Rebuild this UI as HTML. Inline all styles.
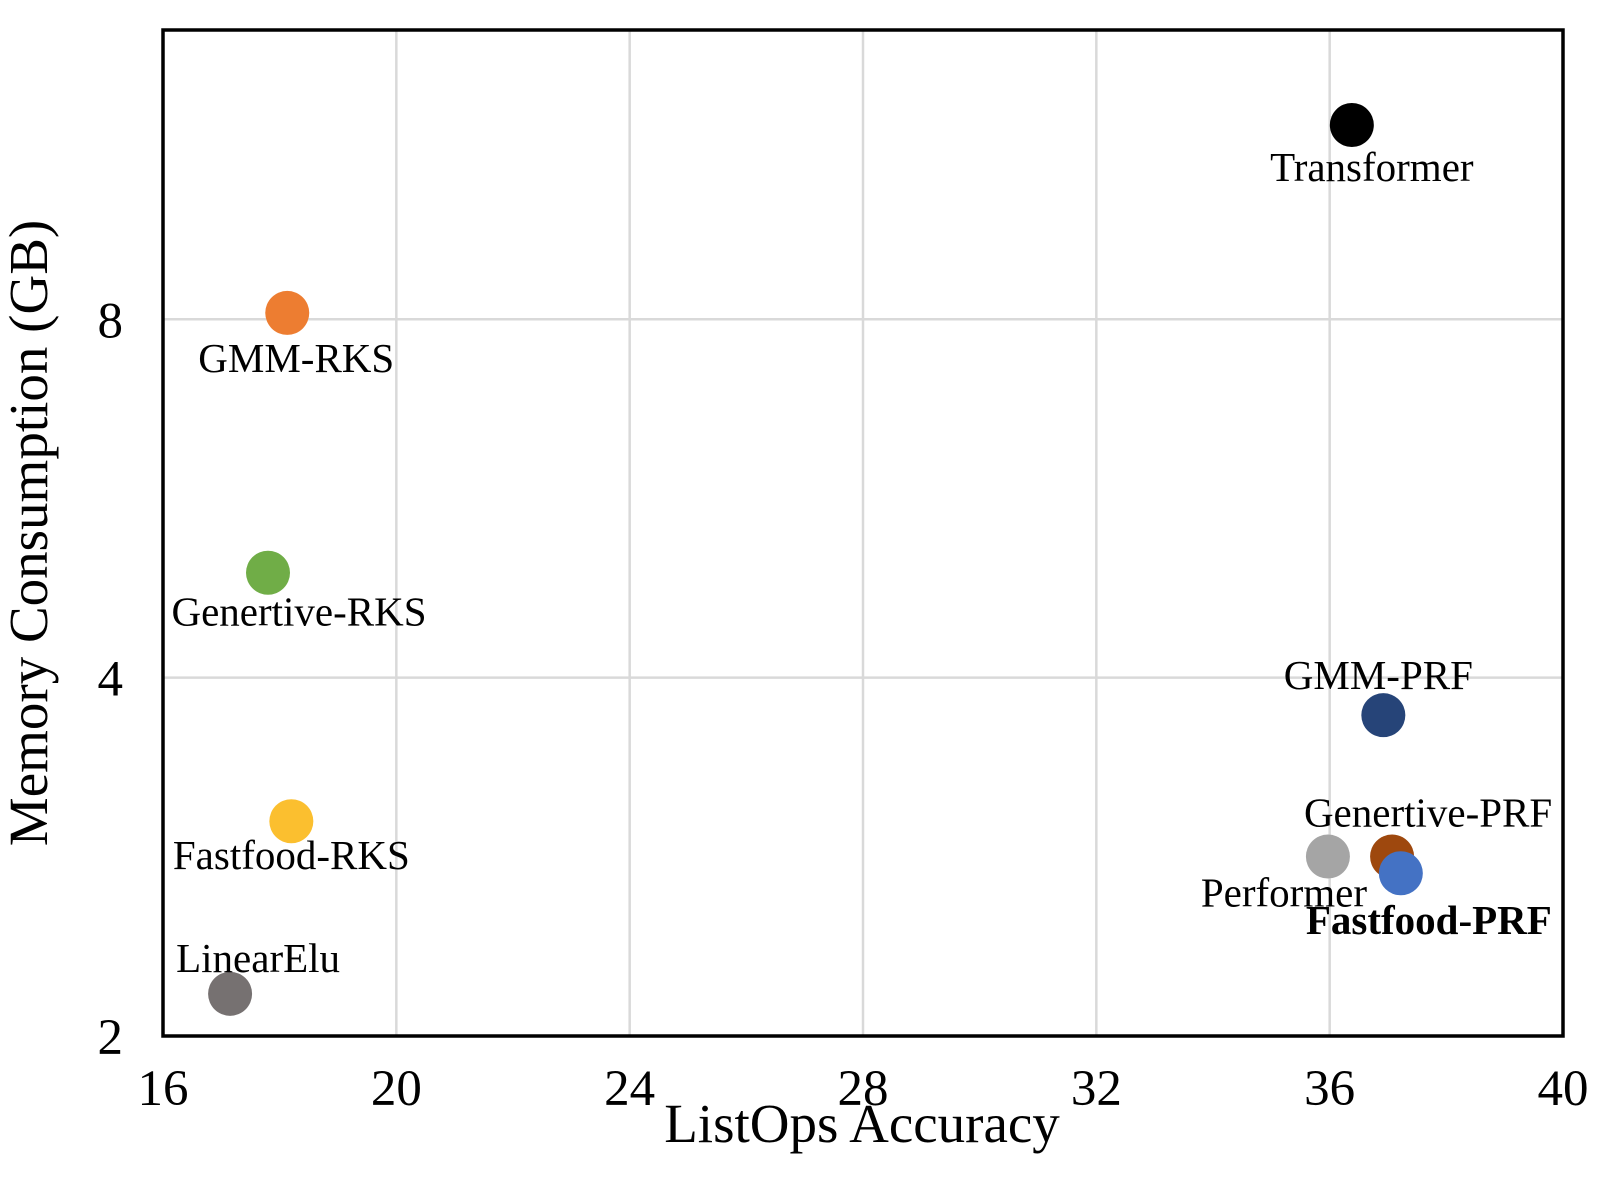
<!DOCTYPE html>
<html><head><meta charset="utf-8"><style>
body{margin:0;background:#fff}
svg text{font-family:"Liberation Serif",serif;fill:#000}
</style></head><body>
<svg id="chart" width="1617" height="1172" viewBox="0 0 1617 1172" xmlns="http://www.w3.org/2000/svg">
<rect width="1617" height="1172" fill="#fff"/>
<g id="grid"></g>
<g id="points"></g>
<rect x="163" y="30" width="1400" height="1006" fill="none" stroke="#000" stroke-width="3.5"/>
<g id="ticks"></g>
<text x="862" y="1142" font-size="55" text-anchor="middle">ListOps Accuracy</text>
<text transform="translate(47,533) rotate(-90)" font-size="55" text-anchor="middle">Memory Consumption (GB)</text>
</svg>
<script>
const models=["Transformer","GMM-RKS","Genertive-RKS","Fastfood-RKS","LinearElu","GMM-PRF","Performer","Genertive-PRF","Fastfood-PRF"];
const accuracy=[36.38,18.13,17.8,18.2,17.15,36.92,35.97,37.07,37.22];
const memory=[11.65,8.1,4.9,3.03,2.17,3.72,2.83,2.83,2.74];
const xTicks=[16,20,24,28,32,36,40];
const yTicks=[2,4,8];
const colors=["#000000","#ED7D31","#70AD47","#FBBF2F","#767171","#264478","#A5A5A5","#9E480E","#4472C4"];
const labelDx=[20,9,31,0,28,-5,-44,36,28];
const labelDy=[56,59,53,48,-22,-26,50,-30,61];
const bold=[0,0,0,0,0,0,0,0,1];
const L=163,R=1563,T=30,B=1036,X0=16,X1=40,Y0=2,Y1=14;
const xs=v=>L+(v-X0)/(X1-X0)*(R-L);
const ys=v=>B-Math.log(v/Y0)/Math.log(Y1/Y0)*(B-T);
const NS="http://www.w3.org/2000/svg";
const mk=(t,a,p)=>{const e=document.createElementNS(NS,t);for(const k in a)e.setAttribute(k,a[k]);p.appendChild(e);return e;};
const grid=document.getElementById('grid'),ticks=document.getElementById('ticks'),pts=document.getElementById('points');
xTicks.forEach(v=>{
 const g=mk('line',{x1:xs(v),x2:xs(v),y1:T,y2:B,stroke:'#d9d9d9','stroke-width':2.5},grid);
 
 
 const t=mk('text',{x:xs(v),y:1105,'font-size':51,'text-anchor':'middle'},ticks);
 t.textContent=v;
 
 
});
yTicks.forEach(v=>{
 const g=mk('line',{x1:L,x2:R,y1:ys(v),y2:ys(v),stroke:'#d9d9d9','stroke-width':2.5},grid);
 
 
 const t=mk('text',{x:123,y:ys(v)+18,'font-size':51,'text-anchor':'end'},ticks);
 t.textContent=v;
 
 
});
models.forEach((m,i)=>{
 const cx=xs(accuracy[i]),cy=ys(memory[i]);
 const c=mk('circle',{cx:cx,cy:cy,r:22,fill:colors[i]},pts);
 
 
 const t=mk('text',{x:cx+labelDx[i],y:cy+labelDy[i],'font-size':41,'text-anchor':'middle','font-weight':bold[i]?'bold':'normal'},pts);
 t.textContent=m;
 
 
});
</script>
</body></html>
